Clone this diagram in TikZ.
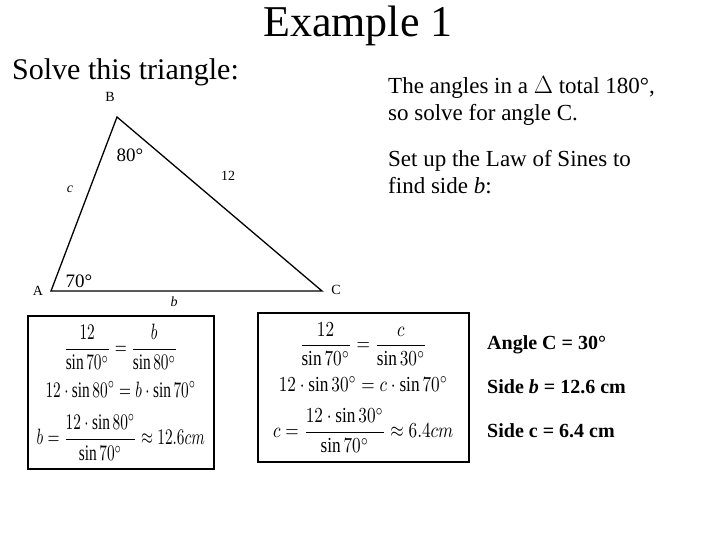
\documentclass[tikz,border=0pt]{standalone}
\usepackage{amsmath}
\usepackage{fontspec}
\setmainfont{Liberation Serif}
\begin{document}
\begin{tikzpicture}[x=1pt,y=-1pt,
  lab/.style={inner sep=0pt,font=\fontsize{14}{16}\selectfont},
  ang/.style={inner sep=0pt,font=\fontsize{19}{22}\selectfont},
  txt/.style={inner sep=0pt,anchor=north west,align=left,font=\fontsize{23}{27}\selectfont},
  eqbox/.style={draw,line width=1.5pt,anchor=north west,inner sep=0pt}]
\useasboundingbox (0,0) rectangle (720,540);
\node (title) at (358,26) {\fontsize{44}{48}\selectfont Example 1};
\node[anchor=west,inner sep=0pt] (solve) at (12,72) {\fontsize{30}{34}\selectfont Solve this triangle:};
\coordinate (A) at (51,291);
\coordinate (B) at (117,117);
\coordinate (C) at (322,291);
\draw[line width=1.3pt] (A) -- (B) -- (C) -- cycle;
\node[lab] (lB) at (110,97) {B};
\node[lab] (lA) at (38,291) {A};
\node[lab] (lC) at (336,290) {C};
\node[lab] (lc) at (70,189) {\textit{c}};
\node[lab] (lb) at (174,302) {\textit{b}};
\node[lab] (l12) at (228,176) {12};
\node[ang] (a80) at (130,155) {80°};
\node[ang] (a70) at (79,281) {70°};
\node[txt] (t1) at (388,76) {The angles in a $\Delta$ total 180°,\\so solve for angle C.};
\node[txt] (t2) at (388,150) {Set up the Law of Sines to\\find side \textit{b}:};
\node[eqbox,minimum width=186pt,minimum height=153pt] (box1) at (27,315) {};
\node[eqbox,minimum width=211pt,minimum height=149pt] (box2) at (257,312) {};
\node (eq1) at (box1.center) {\resizebox*{168pt}{136pt}{$\begin{gathered}
\dfrac{12}{\sin 70^\circ}=\dfrac{b}{\sin 80^\circ}\\
12\cdot\sin 80^\circ=b\cdot\sin 70^\circ\\
b=\dfrac{12\cdot\sin 80^\circ}{\sin 70^\circ}\approx 12.6cm
\end{gathered}$}};
\node (eq2) at (box2.center) {\resizebox*{180pt}{130pt}{$\begin{gathered}
\dfrac{12}{\sin 70^\circ}=\dfrac{c}{\sin 30^\circ}\\
12\cdot\sin 30^\circ=c\cdot\sin 70^\circ\\
c=\dfrac{12\cdot\sin 30^\circ}{\sin 70^\circ}\approx 6.4cm
\end{gathered}$}};
\node[txt,anchor=west,font=\fontsize{20}{24}\selectfont\bfseries] (r1) at (487,345) {Angle C = 30°};
\node[txt,anchor=west,font=\fontsize{20}{24}\selectfont\bfseries] (r2) at (487,387) {Side \textit{b} = 12.6 cm};
\node[txt,anchor=west,font=\fontsize{20}{24}\selectfont\bfseries] (r3) at (487,431) {Side c = 6.4 cm};
\end{tikzpicture}
\end{document}
